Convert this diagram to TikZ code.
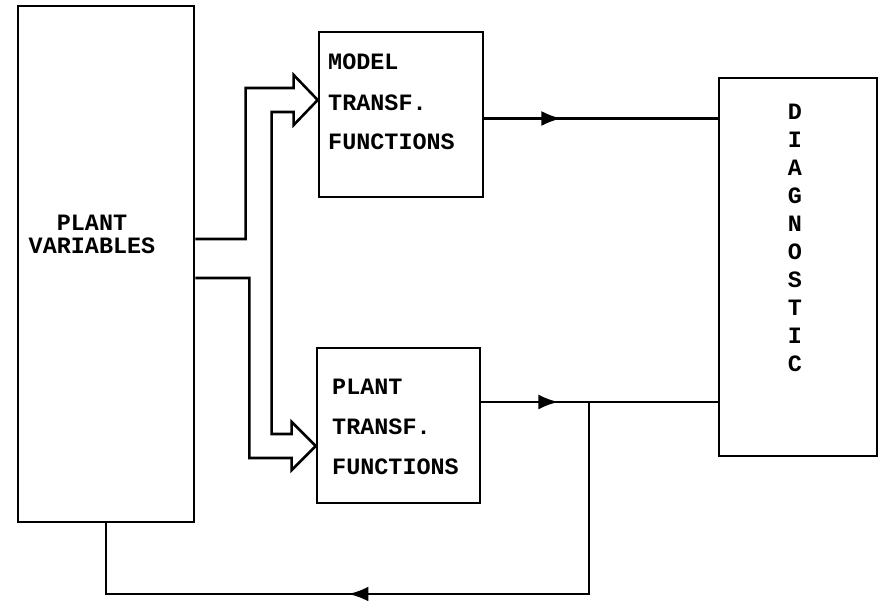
\documentclass[tikz,border=0pt]{standalone}
\usepackage{fontspec}
\newfontfamily\tyfont{Liberation Mono}
\usetikzlibrary{arrows.meta,positioning,calc,decorations.markings}

\begin{document}
\begin{tikzpicture}[x=0.03cm,y=-0.03cm,
    box/.style={draw,line width=2.2pt,inner sep=0pt},
    lbl/.style={font=\tyfont\bfseries\fontsize{20pt}{19.5pt}\selectfont,inner sep=0pt},
    wire/.style={line width=2.2pt},
    fwd/.style={postaction={decorate},decoration={markings,
        mark=at position #1 with {\arrow{Latex[length=0.6cm,width=0.45cm]}}}}]
  \useasboundingbox (0,0) rectangle (888,601);
  % Blocks
  \node[box,minimum width=5.28cm,minimum height=15.48cm] (plantvar) at (106,264) {};
  \node[box,minimum width=4.92cm,minimum height=4.95cm] (model) at (401,114.5) {};
  \node[box,minimum width=4.89cm,minimum height=4.65cm] (plant) at (398.5,425.5) {};
  \node[box,minimum width=4.74cm,minimum height=11.34cm] (diag) at (798,267) {};
  % Labels
  \node[lbl,align=center] (plantvar-txt) at (92,234) {PLANT\\VARIABLES};
  \node[lbl,anchor=west] (model-l1) at (328,62) {MODEL};
  \node[lbl,anchor=west] (model-l2) at (328,103) {TRANSF.};
  \node[lbl,anchor=west] (model-l3) at (328,142) {FUNCTIONS};
  \node[lbl,anchor=west] (plant-l1) at (332,387) {PLANT};
  \node[lbl,anchor=west] (plant-l2) at (332,427) {TRANSF.};
  \node[lbl,anchor=west] (plant-l3) at (332,467) {FUNCTIONS};
  \foreach \ch [count=\i from 0] in {D,I,A,G,N,O,S,T,I,C}
    \node[lbl] (diag-\i) at (795,112+28*\i) {\ch};
  % Hollow arrows into both transfer blocks
  \coordinate (tipM) at (model.west |- 0,100);
  \coordinate (tipP) at (plant.west |- 0,446);
  \draw[wire] (plantvar.east |- 0,239) -| ($(tipM)+(-72,-12)$) -- ++(48,0) -- ++(0,-13)
    -- (tipM) -- ++(-24,25) -- ++(0,-13) -| ($(tipP)+(-44,-12)$) -- ++(20,0) -- ++(0,-12)
    -- (tipP) -- ++(-24,24) -- ++(0,-12) -| ($(plantvar.east |- 0,278)+(54,0)$)
    -- (plantvar.east |- 0,278);
  % Outputs to diagnostic
  \coordinate (split) at (589,402);
  \draw[wire,fwd=0.33] ($(model.east)+(0,4)$) -- ($(model.east -| diag.west)+(0,4)$);
  \draw[wire,fwd=0.326] (plant.east |- split) -- (diag.west |- split);
  % Feedback
  \draw[wire,fwd=0.58] (split) -- (split |- 0,594) -- (plantvar.south |- 0,594) -- (plantvar.south);
\end{tikzpicture}
\end{document}
